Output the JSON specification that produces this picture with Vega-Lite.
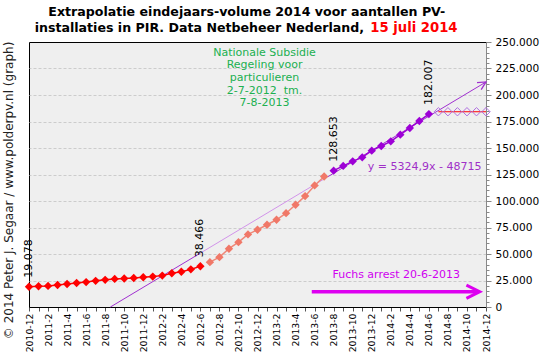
{
  "$schema": "https://vega.github.io/schema/vega-lite/v6.json",
  "width": 457,
  "height": 265,
  "autosize": {"type": "none"},
  "padding": {"left": 29, "top": 42, "right": 62, "bottom": 57},
  "background": "#ffffff",
  "config": {
    "view": {"fill": "#efefef", "stroke": "#000000", "strokeWidth": 1},
    "font": "DejaVu Sans",
    "axis": {"labelFont": "DejaVu Sans"}
  },
  "datasets": {
    "pv": [
      {"m": 0, "v": 19078, "s": "voor"}, {"m": 1, "v": 19600, "s": "voor"}, {"m": 2, "v": 19900, "s": "voor"},
      {"m": 3, "v": 20800, "s": "voor"}, {"m": 4, "v": 21700, "s": "voor"}, {"m": 5, "v": 22600, "s": "voor"},
      {"m": 6, "v": 23500, "s": "voor"}, {"m": 7, "v": 24700, "s": "voor"}, {"m": 8, "v": 25600, "s": "voor"},
      {"m": 9, "v": 26500, "s": "voor"}, {"m": 10, "v": 26900, "s": "voor"}, {"m": 11, "v": 27400, "s": "voor"},
      {"m": 12, "v": 28100, "s": "voor"}, {"m": 13, "v": 28700, "s": "voor"}, {"m": 14, "v": 29600, "s": "voor"},
      {"m": 15, "v": 31800, "s": "voor"}, {"m": 16, "v": 33300, "s": "voor"}, {"m": 17, "v": 35500, "s": "voor"},
      {"m": 18, "v": 38466, "s": "voor"},
      {"m": 19, "v": 42300, "s": "sub"}, {"m": 20, "v": 47000, "s": "sub"}, {"m": 21, "v": 55000, "s": "sub"},
      {"m": 22, "v": 61200, "s": "sub"}, {"m": 23, "v": 68500, "s": "sub"}, {"m": 24, "v": 72900, "s": "sub"},
      {"m": 25, "v": 77600, "s": "sub"}, {"m": 26, "v": 82300, "s": "sub"}, {"m": 27, "v": 88500, "s": "sub"},
      {"m": 28, "v": 96500, "s": "sub"}, {"m": 29, "v": 104600, "s": "sub"}, {"m": 30, "v": 114700, "s": "sub"},
      {"m": 31, "v": 123100, "s": "sub"},
      {"m": 32, "v": 128653, "s": "na"}, {"m": 33, "v": 133100, "s": "na"}, {"m": 34, "v": 137400, "s": "na"},
      {"m": 35, "v": 141200, "s": "na"}, {"m": 36, "v": 147500, "s": "na"}, {"m": 37, "v": 151900, "s": "na"},
      {"m": 38, "v": 156300, "s": "na"}, {"m": 39, "v": 162600, "s": "na"}, {"m": 40, "v": 168900, "s": "na"},
      {"m": 41, "v": 175500, "s": "na"}, {"m": 42, "v": 182007, "s": "na"},
      {"m": 43, "v": 184200, "s": "extrap"}, {"m": 44, "v": 184200, "s": "extrap"}, {"m": 45, "v": 184200, "s": "extrap"},
      {"m": 46, "v": 184200, "s": "extrap"}, {"m": 47, "v": 184200, "s": "extrap"}, {"m": 48, "v": 184200, "s": "extrap"}
    ],
    "trend": [
      {"m": 8.55, "v": 0, "seg": "a"}, {"m": 18, "v": 50855, "seg": "a"},
      {"m": 18, "v": 50855, "seg": "b"}, {"m": 31.38, "v": 122860, "seg": "b"},
      {"m": 31.38, "v": 122860, "seg": "c"}, {"m": 48, "v": 212300, "seg": "c"}
    ],
    "labels": [
      {"m": 0, "v": 19078, "t": "19.078"},
      {"m": 18, "v": 38466, "t": "38.466"},
      {"m": 32, "v": 128653, "t": "128.653"},
      {"m": 42, "v": 182007, "t": "182.007"}
    ],
    "regeling": [
      {"m": 24.74, "v": 239900, "t": "Nationale Subsidie"},
      {"m": 24.74, "v": 228300, "t": "Regeling voor"},
      {"m": 24.74, "v": 215800, "t": "particulieren"},
      {"m": 24.74, "v": 204100, "t": "2-7-2012\u00a0 tm."},
      {"m": 24.74, "v": 192200, "t": "7-8-2013"}
    ]
  },
  "encoding": {
    "x": {
      "field": "m", "type": "quantitative",
      "scale": {"domain": [0, 48], "nice": false, "zero": false},
      "axis": {
        "values": [0,1,2,3,4,5,6,7,8,9,10,11,12,13,14,15,16,17,18,19,20,21,22,23,24,25,26,27,28,29,30,31,32,33,34,35,36,37,38,39,40,41,42,43,44,45,46,47,48],
        "labelExpr": "datum.value % 2 === 0 ? (2010 + floor((datum.value + 11) / 12)) + '-' + ((datum.value + 11) % 12 + 1) : ''",
        "labelAngle": 270, "labelFontSize": 9.3, "labelColor": "#000000", "labelPadding": 2,
        "tickSize": 4, "tickColor": "#555555", "domainColor": "#000000", "grid": false, "title": null,
        "labelFlush": false, "labelOverlap": false, "labelBound": false
      }
    },
    "y": {
      "field": "v", "type": "quantitative",
      "scale": {"domain": [0, 250000], "nice": false, "zero": true},
      "axis": {
        "orient": "right",
        "values": [0,5000,10000,15000,20000,25000,30000,35000,40000,45000,50000,55000,60000,65000,70000,75000,80000,85000,90000,95000,100000,105000,110000,115000,120000,125000,130000,135000,140000,145000,150000,155000,160000,165000,170000,175000,180000,185000,190000,195000,200000,205000,210000,215000,220000,225000,230000,235000,240000,245000,250000],
        "labelExpr": "datum.value % 25000 === 0 ? replace(format(datum.value, ','), ',', '.') : ''",
        "tickSize": {"condition": {"test": "datum.value % 25000 === 0", "value": 5}, "value": 3},
        "grid": true, "gridColor": "#cccccc", "gridDash": [3, 2],
        "gridOpacity": {"condition": {"test": "datum.value % 25000 === 0 && datum.value > 0 && datum.value < 250000", "value": 1}, "value": 0},
        "domainColor": "#888888", "tickColor": "#888888",
        "labelFontSize": 10.6, "labelColor": "#000000", "labelPadding": 4,
        "title": null, "labelOverlap": false, "labelFlush": false
      }
    }
  },
  "layer": [
    {
      "data": {"values": [{"m": 18, "m2": 31.38}]},
      "mark": {"type": "rect", "fill": "#e4e2c8", "opacity": 0.5},
      "encoding": {"x2": {"field": "m2"}, "y": {"datum": 0}, "y2": {"datum": 250000}}
    },
    {
      "data": {"values": [{"m": 18}, {"m": 31.38}]},
      "mark": {"type": "rule", "color": "#00b050", "strokeDash": [3, 2], "strokeWidth": 1},
      "encoding": {"y": {"datum": 0}, "y2": {"datum": 250000}}
    },
    {
      "data": {"name": "trend"},
      "transform": [{"filter": "datum.seg !== 'b'"}],
      "mark": {"type": "line", "strokeWidth": 1, "color": "#a030d0"},
      "encoding": {"detail": {"field": "seg"}}
    },
    {
      "data": {"name": "trend"},
      "transform": [{"filter": "datum.seg === 'b'"}],
      "mark": {"type": "line", "strokeWidth": 1, "color": "#d294ea"}
    },
    {
      "data": {"values": [{"m": 48, "v": 212300}]},
      "mark": {"type": "point", "shape": "M -1 -0.5 L 0 0 L -1 0.5", "filled": false, "color": "#a030d0", "strokeWidth": 1.3, "size": 260, "angle": 329, "opacity": 1}
    },
    {
      "data": {"name": "pv"},
      "transform": [{"filter": "datum.s === 'voor'"}],
      "mark": {"type": "line", "color": "#ff0000", "strokeWidth": 1.5}
    },
    {
      "data": {"name": "pv"},
      "transform": [{"filter": "datum.s === 'sub'"}],
      "mark": {"type": "line", "color": "#f08878", "strokeWidth": 1.5}
    },
    {
      "data": {"name": "pv"},
      "transform": [{"filter": "datum.s === 'na'"}],
      "mark": {"type": "line", "color": "#9d00d6", "strokeWidth": 1.5}
    },
    {
      "data": {"name": "pv"},
      "transform": [{"filter": "datum.s === 'extrap'"}],
      "mark": {"type": "line", "color": "#ff0000", "strokeWidth": 1.2}
    },
    {
      "data": {"name": "pv"},
      "transform": [{"filter": "datum.s === 'voor'"}],
      "mark": {"type": "point", "shape": "diamond", "filled": true, "size": 70, "opacity": 1, "color": "#ff0000"}
    },
    {
      "data": {"name": "pv"},
      "transform": [{"filter": "datum.s === 'sub'"}],
      "mark": {"type": "point", "shape": "diamond", "filled": true, "size": 70, "opacity": 1, "color": "#f07868"}
    },
    {
      "data": {"name": "pv"},
      "transform": [{"filter": "datum.s === 'na'"}],
      "mark": {"type": "point", "shape": "diamond", "filled": true, "size": 70, "opacity": 1, "color": "#9d00d6"}
    },
    {
      "data": {"name": "pv"},
      "transform": [{"filter": "datum.s === 'extrap'"}],
      "mark": {"type": "point", "shape": "diamond", "filled": false, "size": 70, "color": "#b070e0", "strokeWidth": 1, "opacity": 1}
    },
    {
      "data": {"name": "labels"},
      "mark": {"type": "text", "angle": 270, "align": "left", "baseline": "middle", "dx": 9, "fontSize": 11, "color": "#000000"},
      "encoding": {"text": {"field": "t"}}
    },
    {
      "data": {"values": [{"m": 29.7, "v": 14430}, {"m": 47.1, "v": 14430}]},
      "mark": {"type": "line", "color": "#dd00f0", "strokeWidth": 3.5}
    },
    {
      "data": {"values": [{"m": 47.34, "v": 14430}]},
      "mark": {"type": "point", "shape": "M -1 -0.5 L 0 0 L -1 0.5", "filled": false, "color": "#dd00f0", "strokeWidth": 3, "size": 708, "opacity": 1}
    },
    {
      "data": {"values": [{"m": 31.87, "v": 30200, "t": "Fuchs arrest 20-6-2013"}]},
      "mark": {"type": "text", "align": "left", "baseline": "middle", "fontSize": 11, "color": "#d000f0"},
      "encoding": {"text": {"field": "t"}}
    },
    {
      "data": {"values": [{"m": 35.58, "v": 132100, "t": "y = 5324,9x - 48715"}]},
      "mark": {"type": "text", "align": "left", "baseline": "middle", "fontSize": 11, "color": "#a030c8"},
      "encoding": {"text": {"field": "t"}}
    },
    {
      "data": {"name": "regeling"},
      "mark": {"type": "text", "align": "center", "baseline": "middle", "fontSize": 11, "color": "#20b050"},
      "encoding": {"text": {"field": "t"}}
    },
    {
      "data": {"values": [{"m": 22.87, "v": 278700, "t": "Extrapolatie eindejaars-volume 2014 voor aantallen PV-"}]},
      "mark": {"type": "text", "align": "center", "baseline": "middle", "fontSize": 12.6, "fontWeight": "bold", "color": "#000000"},
      "encoding": {"text": {"field": "t"}}
    },
    {
      "data": {"values": [{"m": 35.2, "v": 262900, "t": "installaties in PIR. Data Netbeheer Nederland,"}]},
      "mark": {"type": "text", "align": "right", "baseline": "middle", "fontSize": 12.6, "fontWeight": "bold", "color": "#000000"},
      "encoding": {"text": {"field": "t"}}
    },
    {
      "data": {"values": [{"m": 35.85, "v": 262900, "t": "15 juli 2014"}]},
      "mark": {"type": "text", "align": "left", "baseline": "middle", "fontSize": 13.2, "fontWeight": "bold", "color": "#ff0000"},
      "encoding": {"text": {"field": "t"}}
    },
    {
      "data": {"values": [{"m": -2.13, "v": 110000, "t": "© 2014 Peter J. Segaar / www.polderpv.nl (graph)"}]},
      "mark": {"type": "text", "angle": 270, "align": "center", "baseline": "middle", "fontSize": 12, "color": "#222222"},
      "encoding": {"text": {"field": "t"}}
    }
  ]
}
